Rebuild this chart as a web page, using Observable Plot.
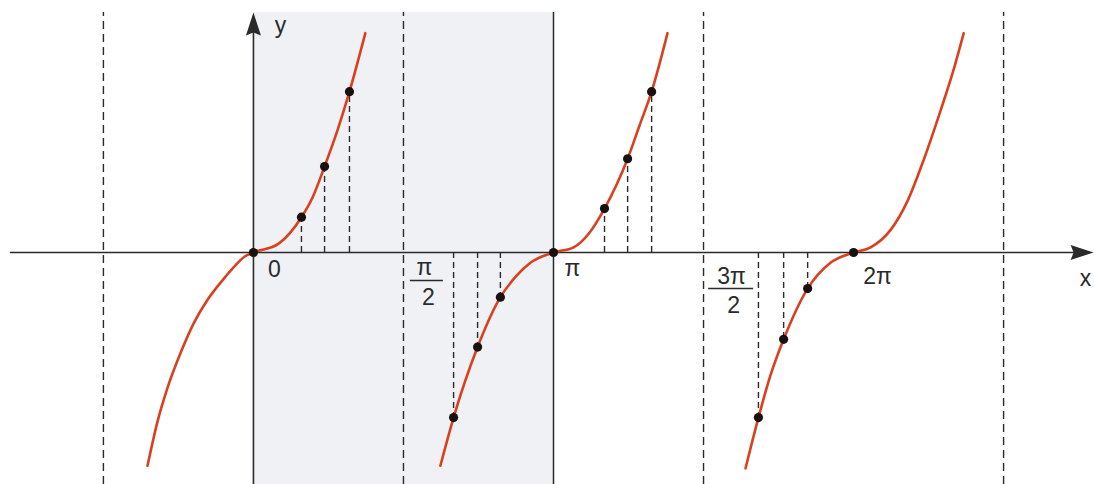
<!DOCTYPE html>
<html><head><meta charset="utf-8">
<script src="https://cdn.jsdelivr.net/npm/d3@7"></script>
<script src="https://cdn.jsdelivr.net/npm/@observablehq/plot@0.6"></script>
<style>html,body{margin:0;padding:0;background:#fff;overflow:hidden}</style>
</head><body><div id="chart"></div>
<script>
// x values are in multiples of π, y values in arbitrary units
const xDomain = [-0.843, 2.803];
const yDomain = [-2.698, 2.930];

// curve branches
const branch1X = [-0.353, -0.320, -0.287, -0.243, -0.200, -0.153, -0.100, -0.060, -0.030, 0, 0.083, 0.160, 0.197, 0.237, 0.280, 0.320, 0.373];
const branch1Y = [-2.48, -1.97, -1.58, -1.17, -0.83, -0.55, -0.31, -0.15, -0.05, 0, 0.10, 0.41, 0.64, 1.00, 1.42, 1.87, 2.55];
const branch2X = [0.623, 0.667, 0.747, 0.823, 0.877, 0.923, 1.0, 1.067, 1.120, 1.170, 1.247, 1.287, 1.327, 1.380];
const branch2Y = [-2.48, -1.92, -1.10, -0.52, -0.27, -0.12, 0, 0.06, 0.23, 0.51, 1.09, 1.48, 1.87, 2.55];
const branch3X = [1.640, 1.683, 1.723, 1.767, 1.847, 1.923, 2.0, 2.057, 2.123, 2.180, 2.233, 2.290, 2.333, 2.367];
const branch3Y = [-2.51, -1.92, -1.43, -1.01, -0.42, -0.12, 0, 0.06, 0.26, 0.60, 1.07, 1.65, 2.12, 2.55];

// marked points
const dotX = [0, 0.160, 0.237, 0.320, 0.667, 0.747, 0.823, 1.0, 1.170, 1.247, 1.327, 1.683, 1.767, 1.847, 2.0];
const dotY = [0, 0.41, 1.00, 1.87, -1.92, -1.10, -0.52, 0, 0.51, 1.09, 1.87, -1.92, -1.01, -0.42, 0];

const asymptoteX = [-0.5, 0.5, 1.5, 2.5];
const shadedBand = [0, 1];
const frameTop = 2.79;
const xAxisStart = -0.81;
const xAxisEnd = 2.80;

// tick labels
const tickLabelText = ["0", "π", "2π"];
const tickLabelX = [0, 1, 2];
const fractionNum = ["π", "3π"];
const fractionDen = ["2", "2"];
const fractionX = [0.5, 1.5];

const branches = [[branch1X, branch1Y], [branch2X, branch2Y], [branch3X, branch3Y]];
const curve = branches.flatMap(([xs, ys], b) => xs.map((x, i) => ({x, y: ys[i], b})));
const dots = dotX.map((x, i) => ({x, y: dotY[i]}));
const ticks = tickLabelText.map((t, i) => ({t, x: tickLabelX[i]}));
const fracs = fractionNum.map((n, i) => ({n, d: fractionDen[i], x: fractionX[i]}));

const arrowHead = {draw(ctx) { ctx.moveTo(0, 0); ctx.lineTo(7.5, 23); ctx.lineTo(0, 20); ctx.lineTo(-7.5, 23); ctx.closePath(); }};

const ink = "#2a2a2a";
const font = "Liberation Sans, Arial, sans-serif";
const fs = 23;

const chart = Plot.plot({
  width: 1094, height: 484,
  margin: 0,
  x: {domain: xDomain, axis: null},
  y: {domain: yDomain, axis: null},
  style: {background: "#fff", fontFamily: font, overflow: "visible"},
  marks: [
    Plot.rect([shadedBand], {x1: d => d[0], x2: d => d[1], y1: yDomain[0], y2: frameTop, fill: "#eff1f5"}),
    Plot.ruleX(asymptoteX, {y1: yDomain[0], y2: frameTop, stroke: ink, strokeWidth: 1.4, strokeDasharray: "8,5"}),
    Plot.ruleX(dots.filter(d => d.y !== 0), {x: "x", y1: 0, y2: "y", stroke: ink, strokeWidth: 1.4, strokeDasharray: "6,4"}),
    Plot.ruleX([shadedBand[1]], {y1: yDomain[0], y2: frameTop, stroke: ink, strokeWidth: 1.5}),
    Plot.ruleY([0], {x1: xAxisStart, x2: xAxisEnd - 0.05, stroke: ink, strokeWidth: 1.6}),
    Plot.ruleX([0], {y1: yDomain[0], y2: frameTop - 0.2, stroke: ink, strokeWidth: 1.6}),
    Plot.dot([{x: xAxisEnd, y: 0}], {x: "x", y: "y", symbol: arrowHead, rotate: 90, fill: ink, stroke: "none"}),
    Plot.dot([{x: 0, y: frameTop}], {x: "x", y: "y", symbol: arrowHead, fill: ink, stroke: "none"}),
    Plot.line(curve, {x: "x", y: "y", z: "b", curve: "monotone-x", stroke: "#d9401e", strokeWidth: 2.6}),
    Plot.dot(dots, {x: "x", y: "y", r: 4.6, fill: "#1a1010", stroke: "none"}),
    Plot.text(ticks.filter(d => d.t === "0"), {x: "x", y: 0, text: "t", dx: 21, dy: 17, fontSize: fs, fill: ink}),
    Plot.text(ticks.filter(d => d.t === "π"), {x: "x", y: 0, text: "t", dx: 19, dy: 16, fontSize: fs, fill: ink}),
    Plot.text(ticks.filter(d => d.t === "2π"), {x: "x", y: 0, text: "t", dx: 24, dy: 24, fontSize: fs, fill: ink}),
    Plot.text(fracs.filter(d => d.n === "π"), {x: "x", y: 0, text: "n", dx: 21, dy: 15, fontSize: fs, fill: ink}),
    Plot.ruleY(fracs.filter(d => d.n === "π"), {y: 0, x1: d => d.x + 0.023, x2: d => d.x + 0.133, dy: 28, stroke: ink, strokeWidth: 1.3}),
    Plot.text(fracs.filter(d => d.n === "π"), {x: "x", y: 0, text: "d", dx: 25, dy: 45, fontSize: fs, fill: ink}),
    Plot.text(fracs.filter(d => d.n === "3π"), {x: "x", y: 0, text: "n", dx: 28, dy: 24, fontSize: fs, fill: ink}),
    Plot.ruleY(fracs.filter(d => d.n === "3π"), {y: 0, x1: d => d.x + 0.017, x2: d => d.x + 0.167, dy: 36, stroke: ink, strokeWidth: 1.3}),
    Plot.text(fracs.filter(d => d.n === "3π"), {x: "x", y: 0, text: "d", dx: 30, dy: 53, fontSize: fs, fill: ink}),
    Plot.text(["x"], {x: xAxisEnd - 0.027, y: 0, text: d => d, dy: 26, fontSize: fs, fill: ink}),
    Plot.text(["y"], {x: 0, y: frameTop, text: d => d, dx: 27, dy: 13, fontSize: fs, fill: ink})
  ]
});
document.getElementById("chart").appendChild(chart);
</script>
</body></html>
